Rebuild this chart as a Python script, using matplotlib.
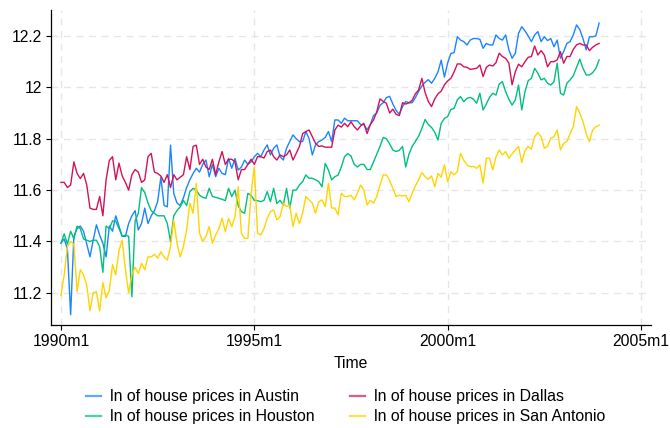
import numpy as np
import matplotlib
matplotlib.use("Agg")
import matplotlib.pyplot as plt

# monthly log house prices, 1990m1 .. 2003m12 (one row per year)
austin = [
    11.393, 11.41, 11.37, 11.115, 11.42, 11.45, 11.46, 11.44, 11.39, 11.34, 11.405, 11.465,
    11.425, 11.393, 11.34, 11.46, 11.44, 11.50, 11.46, 11.42, 11.42, 11.47, 11.50, 11.52,
    11.445, 11.47, 11.53, 11.47, 11.50, 11.52, 11.555, 11.65, 11.54, 11.535, 11.775, 11.587,
    11.55, 11.54, 11.57, 11.61, 11.64, 11.665, 11.685, 11.67, 11.70, 11.717, 11.652, 11.70,
    11.652, 11.685, 11.665, 11.66, 11.723, 11.685, 11.723, 11.678, 11.69, 11.717, 11.70, 11.71,
    11.73, 11.743, 11.73, 11.756, 11.776, 11.737, 11.763, 11.776, 11.73, 11.717, 11.763, 11.789,
    11.815, 11.80, 11.789, 11.789, 11.828, 11.80, 11.737, 11.776, 11.789, 11.795, 11.805, 11.828,
    11.789, 11.873, 11.873, 11.86, 11.88, 11.87, 11.87, 11.87, 11.87, 11.855, 11.855, 11.835,
    11.855, 11.89, 11.90, 11.93, 11.94, 11.96, 11.965, 11.935, 11.91, 11.895, 11.925, 11.945,
    11.94, 11.94, 11.96, 11.985, 12.005, 12.02, 12.03, 12.016, 12.035, 12.06, 12.106, 12.04,
    12.095, 12.132, 12.135, 12.197, 12.184, 12.178, 12.165, 12.184, 12.19, 12.19, 12.187, 12.152,
    12.171, 12.165, 12.165, 12.204, 12.19, 12.184, 12.204, 12.146, 12.113, 12.133, 12.21, 12.236,
    12.22, 12.20, 12.178, 12.204, 12.217, 12.178, 12.197, 12.182, 12.19, 12.158, 12.184, 12.113,
    12.139, 12.171, 12.178, 12.204, 12.243, 12.225, 12.19, 12.146, 12.197, 12.197, 12.20, 12.25,
]
dallas = [
    11.63, 11.63, 11.61, 11.62, 11.71, 11.665, 11.645, 11.665, 11.62, 11.53, 11.525, 11.525,
    11.575, 11.50, 11.64, 11.715, 11.73, 11.64, 11.705, 11.655, 11.63, 11.60, 11.66, 11.68,
    11.67, 11.63, 11.64, 11.73, 11.743, 11.67, 11.665, 11.655, 11.63, 11.66, 11.61, 11.66,
    11.64, 11.65, 11.66, 11.73, 11.68, 11.77, 11.775, 11.70, 11.72, 11.69, 11.68, 11.72,
    11.66, 11.71, 11.75, 11.70, 11.72, 11.72, 11.71, 11.64, 11.68, 11.68, 11.70, 11.72,
    11.70, 11.73, 11.73, 11.725, 11.75, 11.756, 11.73, 11.717, 11.737, 11.73, 11.737, 11.756,
    11.717, 11.743, 11.77, 11.82, 11.828, 11.834, 11.808, 11.782, 11.77, 11.772, 11.767, 11.767,
    11.767, 11.834, 11.853, 11.845, 11.86, 11.847, 11.866, 11.847, 11.834, 11.85, 11.86, 11.82,
    11.855, 11.873, 11.905, 11.955, 11.945, 11.938, 11.90, 11.915, 11.895, 11.89, 11.94, 11.935,
    11.94, 11.95, 11.975, 11.99, 12.035, 11.98, 11.945, 11.925, 11.955, 11.975, 11.985, 12.01,
    12.025, 12.035, 12.06, 12.091, 12.091, 12.08, 12.078, 12.07, 12.072, 12.074, 12.087, 12.042,
    12.078, 12.087, 12.083, 12.096, 12.133, 12.12, 12.113, 12.094, 12.01, 12.061, 12.09, 12.08,
    12.10, 12.117, 12.12, 12.161, 12.126, 12.143, 12.126, 12.08, 12.10, 12.10, 12.107, 12.139,
    12.094, 12.12, 12.12, 12.148, 12.165, 12.171, 12.165, 12.165, 12.143, 12.156, 12.165, 12.171,
]
houston = [
    11.393, 11.43, 11.39, 11.44, 11.41, 11.46, 11.45, 11.41, 11.405, 11.40, 11.405, 11.405,
    11.38, 11.28, 11.46, 11.45, 11.48, 11.48, 11.45, 11.42, 11.425, 11.42, 11.185, 11.48,
    11.51, 11.61, 11.59, 11.55, 11.52, 11.51, 11.50, 11.50, 11.50, 11.47, 11.40, 11.50,
    11.52, 11.535, 11.56, 11.54, 11.594, 11.607, 11.60, 11.58, 11.572, 11.568, 11.607, 11.575,
    11.572, 11.568, 11.564, 11.559, 11.607, 11.575, 11.60, 11.54, 11.516, 11.51, 11.587, 11.58,
    11.56, 11.559, 11.555, 11.56, 11.594, 11.555, 11.607, 11.548, 11.56, 11.542, 11.607, 11.53,
    11.60, 11.60, 11.62, 11.633, 11.659, 11.646, 11.646, 11.64, 11.633, 11.613, 11.704, 11.678,
    11.64, 11.652, 11.659, 11.69, 11.73, 11.742, 11.733, 11.70, 11.69, 11.70, 11.70, 11.68,
    11.68, 11.71, 11.74, 11.77, 11.805, 11.80, 11.78, 11.756, 11.75, 11.755, 11.77, 11.69,
    11.74, 11.77, 11.79, 11.81, 11.84, 11.875, 11.855, 11.844, 11.825, 11.795, 11.86, 11.879,
    11.886, 11.914, 11.918, 11.951, 11.964, 11.944, 11.957, 11.961, 11.954, 11.938, 11.977, 11.912,
    11.935, 11.961, 11.977, 11.97, 12.013, 12.022, 11.983, 11.954, 11.931, 11.951, 12.009, 11.912,
    11.983, 12.026, 12.035, 12.074, 12.055, 12.029, 12.035, 12.016, 12.009, 12.022, 12.094, 11.977,
    11.97, 12.016, 12.029, 12.045, 12.078, 12.11, 12.074, 12.048, 12.048, 12.057, 12.074, 12.107,
]
san_antonio = [
    11.19, 11.27, 11.38, 11.40, 11.39, 11.205, 11.29, 11.27, 11.23, 11.13, 11.20, 11.205,
    11.13, 11.24, 11.18, 11.21, 11.31, 11.27, 11.365, 11.405, 11.29, 11.20, 11.27, 11.30,
    11.275, 11.315, 11.29, 11.34, 11.34, 11.35, 11.335, 11.36, 11.34, 11.328, 11.38, 11.484,
    11.393, 11.34, 11.38, 11.445, 11.55, 11.51, 11.626, 11.432, 11.40, 11.42, 11.458, 11.393,
    11.425, 11.45, 11.49, 11.438, 11.49, 11.458, 11.497, 11.613, 11.432, 11.412, 11.412, 11.587,
    11.69, 11.432, 11.425, 11.45, 11.49, 11.516, 11.523, 11.484, 11.497, 11.549, 11.536, 11.542,
    11.458, 11.51, 11.47, 11.51, 11.575, 11.562, 11.549, 11.51, 11.555, 11.562, 11.536, 11.626,
    11.53, 11.53, 11.503, 11.588, 11.575, 11.575, 11.58, 11.562, 11.588, 11.62, 11.60, 11.542,
    11.56, 11.549, 11.575, 11.62, 11.659, 11.659, 11.637, 11.607, 11.575, 11.58, 11.577, 11.58,
    11.555, 11.588, 11.617, 11.64, 11.668, 11.652, 11.642, 11.655, 11.613, 11.665, 11.65, 11.698,
    11.633, 11.672, 11.659, 11.672, 11.743, 11.717, 11.698, 11.691, 11.692, 11.685, 11.698, 11.627,
    11.724, 11.724, 11.679, 11.73, 11.756, 11.737, 11.75, 11.724, 11.741, 11.756, 11.77, 11.707,
    11.754, 11.77, 11.759, 11.808, 11.824, 11.808, 11.763, 11.77, 11.802, 11.808, 11.834, 11.756,
    11.782, 11.789, 11.82, 11.847, 11.925, 11.90, 11.867, 11.819, 11.789, 11.834, 11.847, 11.853,
]

month = np.arange(len(austin))          # months since 1990m1
xticks = [0, 60, 120, 180]
xticklabels = ["1990m1", "1995m1", "2000m1", "2005m1"]
yticks = [11.2, 11.4, 11.6, 11.8, 12.0, 12.2]
yticklabels = ["11.2", "11.4", "11.6", "11.8", "12", "12.2"]

plt.rcParams['font.family'] = ['Liberation Sans', 'DejaVu Sans']

fig = plt.figure(figsize=(6.7, 4.28), dpi=100)
ax = fig.add_axes([0.0761, 0.2407, 0.8955, 0.7359])

la, = ax.plot(month, austin, color='#1a85ff', lw=1.0)
ld, = ax.plot(month, dallas, color='#d41159', lw=1.0)
lh, = ax.plot(month, houston, color='#00bf7f', lw=1.0)
ls, = ax.plot(month, san_antonio, color='#ffd400', lw=1.0)

ax.set_xlim(-3.1, 183.1)
ax.set_ylim(11.075, 12.301)
ax.set_xticks(xticks)
ax.set_xticklabels(xticklabels)
ax.set_yticks(yticks)
ax.set_yticklabels(yticklabels)
ax.tick_params(direction='out', length=3.5, width=0.8, labelsize=11.3, pad=3)

ax.grid(True, color='#e6e6e6', lw=1.0, linestyle=(0, (5, 4)))
ax.set_axisbelow(True)
for s in ['top', 'right']:
    ax.spines[s].set_visible(False)
for s in ['left', 'bottom']:
    ax.spines[s].set_linewidth(0.9)

ax.set_xlabel('Time', fontsize=11.3, labelpad=5)

leg = fig.legend([la, lh, ld, ls],
                 ['ln of house prices in Austin', 'ln of house prices in Houston',
                  'ln of house prices in Dallas', 'ln of house prices in San Antonio'],
                 ncol=2, loc='center', bbox_to_anchor=(0.516, 0.05), frameon=False,
                 fontsize=11.4, handlelength=0.95, handletextpad=0.57, columnspacing=2.2,
                 labelspacing=0.32)
for h in leg.legend_handles:
    h.set_linewidth(1.6)
    h.set_alpha(0.7)

fig.savefig('out.png', dpi=100)
